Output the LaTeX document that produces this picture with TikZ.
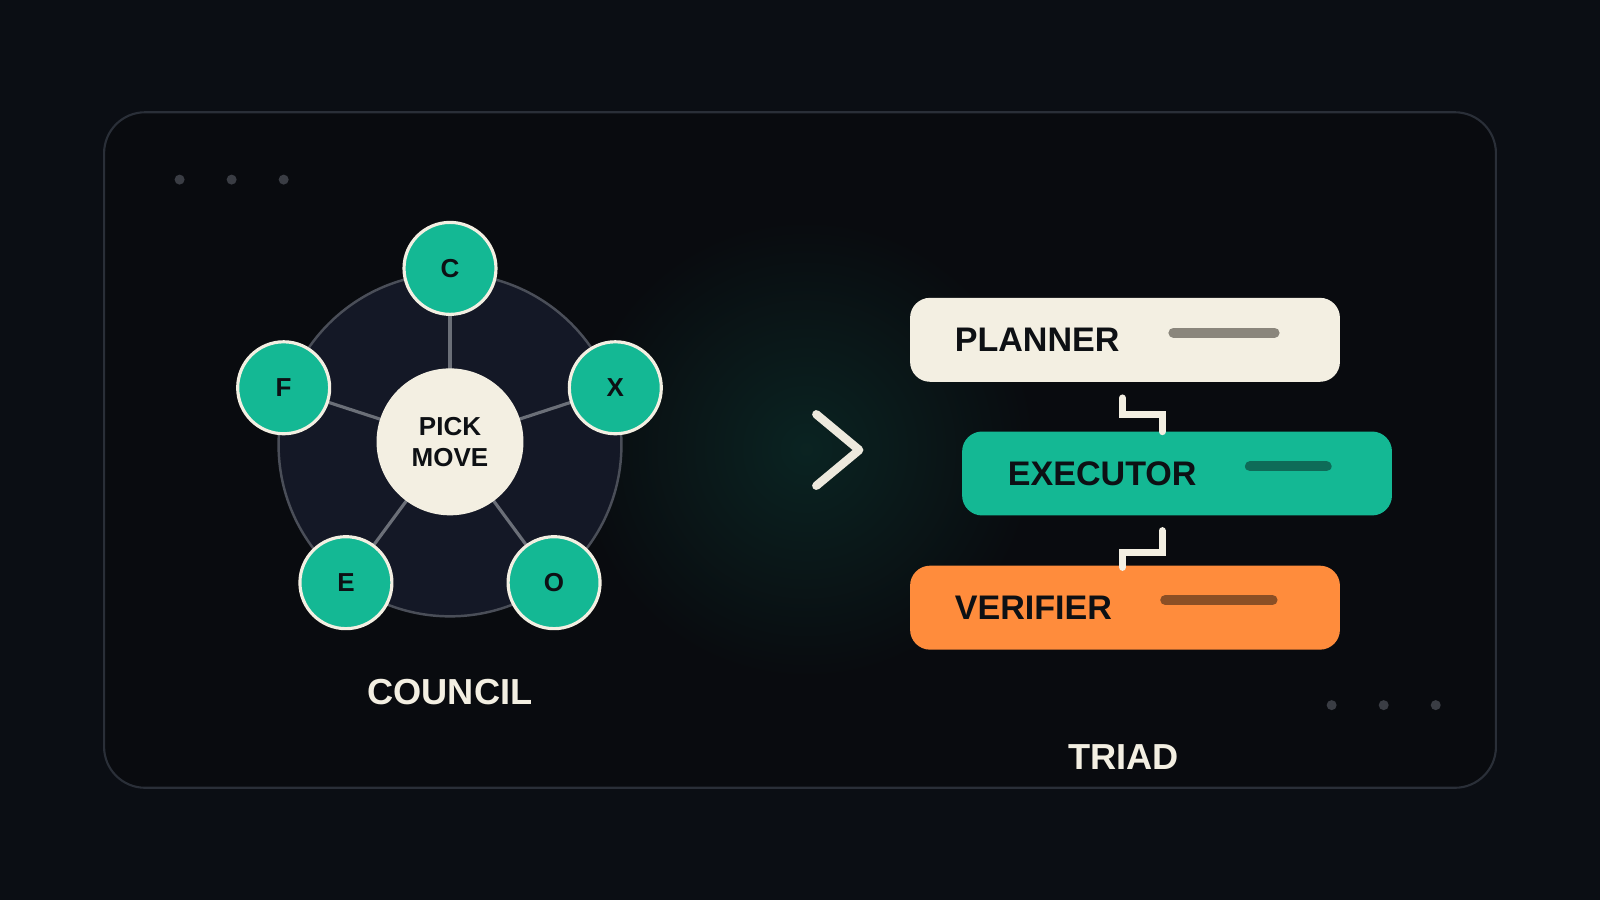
\documentclass[tikz,border=0pt]{standalone}
\usepackage{fontspec}
\setmainfont{Liberation Sans}
\pgfdeclarelayer{bg}
\pgfsetlayers{bg,main}
\definecolor{bgc}{HTML}{0B0E14}
\definecolor{panel}{HTML}{090B0F}
\definecolor{panelline}{HTML}{2A2F38}
\definecolor{dotc}{HTML}{3A3D44}
\definecolor{ring}{HTML}{141826}
\definecolor{ringline}{HTML}{4A4E58}
\definecolor{spoke}{HTML}{6B6F78}
\definecolor{teal}{HTML}{14B894}
\definecolor{cream}{HTML}{F3EFE2}
\definecolor{orng}{HTML}{FF8C3C}
\definecolor{inkc}{HTML}{0D1014}
\definecolor{bargray}{HTML}{8A867C}
\definecolor{barteal}{HTML}{0E6B58}
\definecolor{barorng}{HTML}{8B4F25}
\tikzset{
  member/.style={circle,fill=teal,draw=cream,line width=0.9pt,minimum size=9.2mm,inner sep=0pt,text=inkc,font=\fontsize{7.4}{8}\selectfont\bfseries},
  hub/.style={circle,fill=cream,minimum size=14.7mm,inner sep=0pt,text=inkc,align=center,font=\fontsize{7.4}{8.9}\selectfont\bfseries},
  card/.style={rounded corners=2mm,minimum width=43mm,minimum height=8.4mm,inner sep=0pt},
  cardtxt/.style={anchor=west,inner sep=0pt,text=inkc,font=\fontsize{9.7}{11}\selectfont\bfseries},
  bar/.style={line width=2.9pt,line cap=round},
  link/.style={draw=cream,line width=2pt,line cap=round},
  dotmark/.style={circle,fill=dotc,inner sep=0pt,minimum size=1mm},
  title/.style={text=cream,font=\fontsize{10.3}{12}\selectfont\bfseries}
}
\begin{document}
\begin{tikzpicture}[x=0.010204cm,y=-0.010204cm]
\useasboundingbox (0,0) rectangle (1568,882);
\begin{pgfonlayer}{bg}
\fill[bgc] (0,0) rectangle (1568,882);
\fill[panel,draw=panelline,line width=0.6pt,rounded corners=4.1mm] (102,110) rectangle (1466,772);
\shade[inner color=teal!14!panel,outer color=panel] (790,440) circle (225);
\fill[ring,draw=ringline,line width=0.7pt] (441,436) circle (168);
\end{pgfonlayer}
% dots
\foreach \i/\x/\y in {1/176/176,2/227/176,3/278/176,4/1305/691,5/1356/691,6/1407/691}
  \node[dotmark] (d\i) at (\x,\y) {};
% council
\node[hub] (hub) at (441,433) {PICK\\MOVE};
\node[member] (C) at (441,263) {C};
\node[member] (X) at (603,380) {X};
\node[member] (O) at (543,571) {O};
\node[member] (E) at (339,571) {E};
\node[member] (F) at (278,380) {F};
\begin{pgfonlayer}{bg}
\foreach \n in {C,X,O,E,F}
  \draw[spoke,line width=0.9pt] (hub.center) -- (\n.center);
\end{pgfonlayer}
\node[title] (council) at (441,678) {COUNCIL};
% chevron
\coordinate (ch1) at (800,406);
\coordinate (ch2) at (842,441);
\coordinate (ch3) at (800,476);
\draw[draw=cream!95!gray,line width=2.4pt,line cap=round,line join=round] (ch1) -- (ch2) -- (ch3);
% triad
\node[card,fill=cream] (plan) at (1102.5,333) {};
\node[card,fill=teal] (exec) at (1153.5,464) {};
\node[card,fill=orng] (ver) at (1102.5,595.5) {};
\node[cardtxt] (tplan) at (935,333) {PLANNER};
\node[cardtxt] (texec) at (987,464) {EXECUTOR};
\node[cardtxt] (tver) at (935,596) {VERIFIER};
\draw[bar,bargray] (1150,326) -- (1249,326);
\draw[bar,barteal] (1225,457) -- (1300,457);
\draw[bar,barorng] (1142,588) -- (1247,588);
\coordinate (a1) at (1100,390);
\coordinate (a2) at (1139,423);
\coordinate (b1) at (1139,520);
\coordinate (b2) at (1100,556);
\draw[link] (a1) -- (1100,406) -- (1139,406) -- (a2);
\draw[link] (b1) -- (1139,541) -- (1100,541) -- (b2);
\node[title] (triad) at (1101,742) {TRIAD};
\end{tikzpicture}
\end{document}
